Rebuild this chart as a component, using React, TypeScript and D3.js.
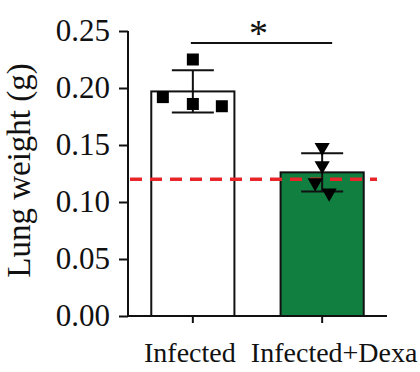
import { useRef, useEffect } from 'react';
import * as d3 from 'd3';

const FONT = '"Liberation Serif", "DejaVu Serif", serif';

const groups = ['Infected', 'Infected+Dexa'];
const barMeans = [0.197, 0.126];
const barSd = [0.0185, 0.0168];
const barFill = ['#ffffff', '#107f40'];
const infectedPoints = [0.192, 0.225, 0.186, 0.184];
const dexaPoints = [0.148, 0.132, 0.117, 0.108];
const pointJitter = [[-30, 0, 0, 29], [0, 0, -7, 7]];
const yTicks = [0, 0.05, 0.1, 0.15, 0.2, 0.25];
const baselineValue = 0.12;
const labelNudge = [-3, 12];

export default function App() {
  const svgRef = useRef<SVGSVGElement>(null);

  useEffect(() => {
    document.body.style.margin = '0';
    const svg = d3.select(svgRef.current);
    svg.selectAll('*').remove();

    const margin = { top: 31, left: 128, right: 33, bottom: 56 };
    const W = 420, H = 372;
    const width = W - margin.left - margin.right;
    const height = H - margin.top - margin.bottom;

    const x = d3.scaleBand().domain(groups).range([0, width]).paddingInner(0.357).paddingOuter(0.18);
    const y = d3.scaleLinear().domain([0, 0.25]).range([height, 0]);

    const g = svg.append('g').attr('transform', `translate(${margin.left},${margin.top})`);

    // Bars
    groups.forEach((grp, i) => {
      g.append('rect')
        .attr('x', x(grp)!)
        .attr('y', y(barMeans[i]))
        .attr('width', x.bandwidth())
        .attr('height', height - y(barMeans[i]))
        .attr('fill', barFill[i])
        .attr('stroke', '#111')
        .attr('stroke-width', 2);
    });

    // Red dashed reference line
    g.append('line')
      .attr('x1', 2).attr('x2', width - 10)
      .attr('y1', y(baselineValue)).attr('y2', y(baselineValue))
      .attr('stroke', '#e8262a')
      .attr('stroke-width', 3.5)
      .attr('stroke-dasharray', '12 8');

    // Error bars
    groups.forEach((grp, i) => {
      const cx = x(grp)! + x.bandwidth() / 2;
      const hi = y(barMeans[i] + barSd[i]);
      const lo = y(barMeans[i] - barSd[i]);
      const eb = g.append('g').attr('stroke', '#111').attr('stroke-width', 2);
      eb.append('line').attr('x1', cx).attr('x2', cx).attr('y1', hi).attr('y2', lo);
      eb.append('line').attr('x1', cx - 21).attr('x2', cx + 21).attr('y1', hi).attr('y2', hi);
      eb.append('line').attr('x1', cx - 21).attr('x2', cx + 21).attr('y1', lo).attr('y2', lo);
    });

    // Points
    const c0 = x(groups[0])! + x.bandwidth() / 2;
    infectedPoints.forEach((v, j) => {
      g.append('rect')
        .attr('x', c0 + pointJitter[0][j] - 6)
        .attr('y', y(v) - 6)
        .attr('width', 12).attr('height', 12)
        .attr('fill', '#000');
    });
    const c1 = x(groups[1])! + x.bandwidth() / 2;
    const tri = d3.symbol().type(d3.symbolTriangle).size(100);
    dexaPoints.forEach((v, j) => {
      g.append('path')
        .attr('d', tri()!)
        .attr('transform', `translate(${c1 + pointJitter[1][j]},${y(v)}) rotate(180)`)
        .attr('fill', '#000');
    });

    // Y axis
    g.append('g')
      .call(d3.axisLeft(y).tickValues(yTicks).tickSize(9).tickPadding(9).tickFormat(d3.format('.2f')))
      .call(sel => {
        sel.select('.domain').attr('stroke', '#111').attr('stroke-width', 2).attr('d', `M0,0V${height}`);
        sel.selectAll('line').attr('stroke', '#111').attr('stroke-width', 2);
        sel.selectAll('text')
          .attr('fill', '#111')
          .attr('font-family', FONT)
          .attr('font-size', 31);
      });

    // X axis
    g.append('g')
      .attr('transform', `translate(0,${height})`)
      .call(d3.axisBottom(x).tickSize(7).tickPadding(19))
      .call(sel => {
        sel.select('.domain').attr('stroke', '#111').attr('stroke-width', 2).attr('d', `M0,0H${width}`);
        sel.selectAll('line').attr('stroke', '#111').attr('stroke-width', 2);
        sel.selectAll('text')
          .attr('fill', '#111')
          .attr('font-family', FONT)
          .attr('font-size', 28)
          .attr('dx', (_d, i) => labelNudge[i]);
      });

    // Significance bracket
    g.append('line')
      .attr('x1', c0 - 2).attr('x2', c1 + 10)
      .attr('y1', 12).attr('y2', 12)
      .attr('stroke', '#111').attr('stroke-width', 2);
    g.append('text')
      .attr('x', (c0 + c1) / 2 + 1)
      .attr('y', 15)
      .attr('text-anchor', 'middle')
      .attr('font-family', FONT)
      .attr('font-size', 38)
      .attr('fill', '#111')
      .text('*');

    // Y label
    svg.append('text')
      .attr('transform', `translate(30,${margin.top + height / 2 - 3}) rotate(-90)`)
      .attr('text-anchor', 'middle')
      .attr('font-family', FONT)
      .attr('font-size', 33)
      .attr('fill', '#111')
      .text('Lung weight (g)');
  }, []);

  return <svg ref={svgRef} width={420} height={372} style={{ display: 'block', background: '#fff' }} />;
}
